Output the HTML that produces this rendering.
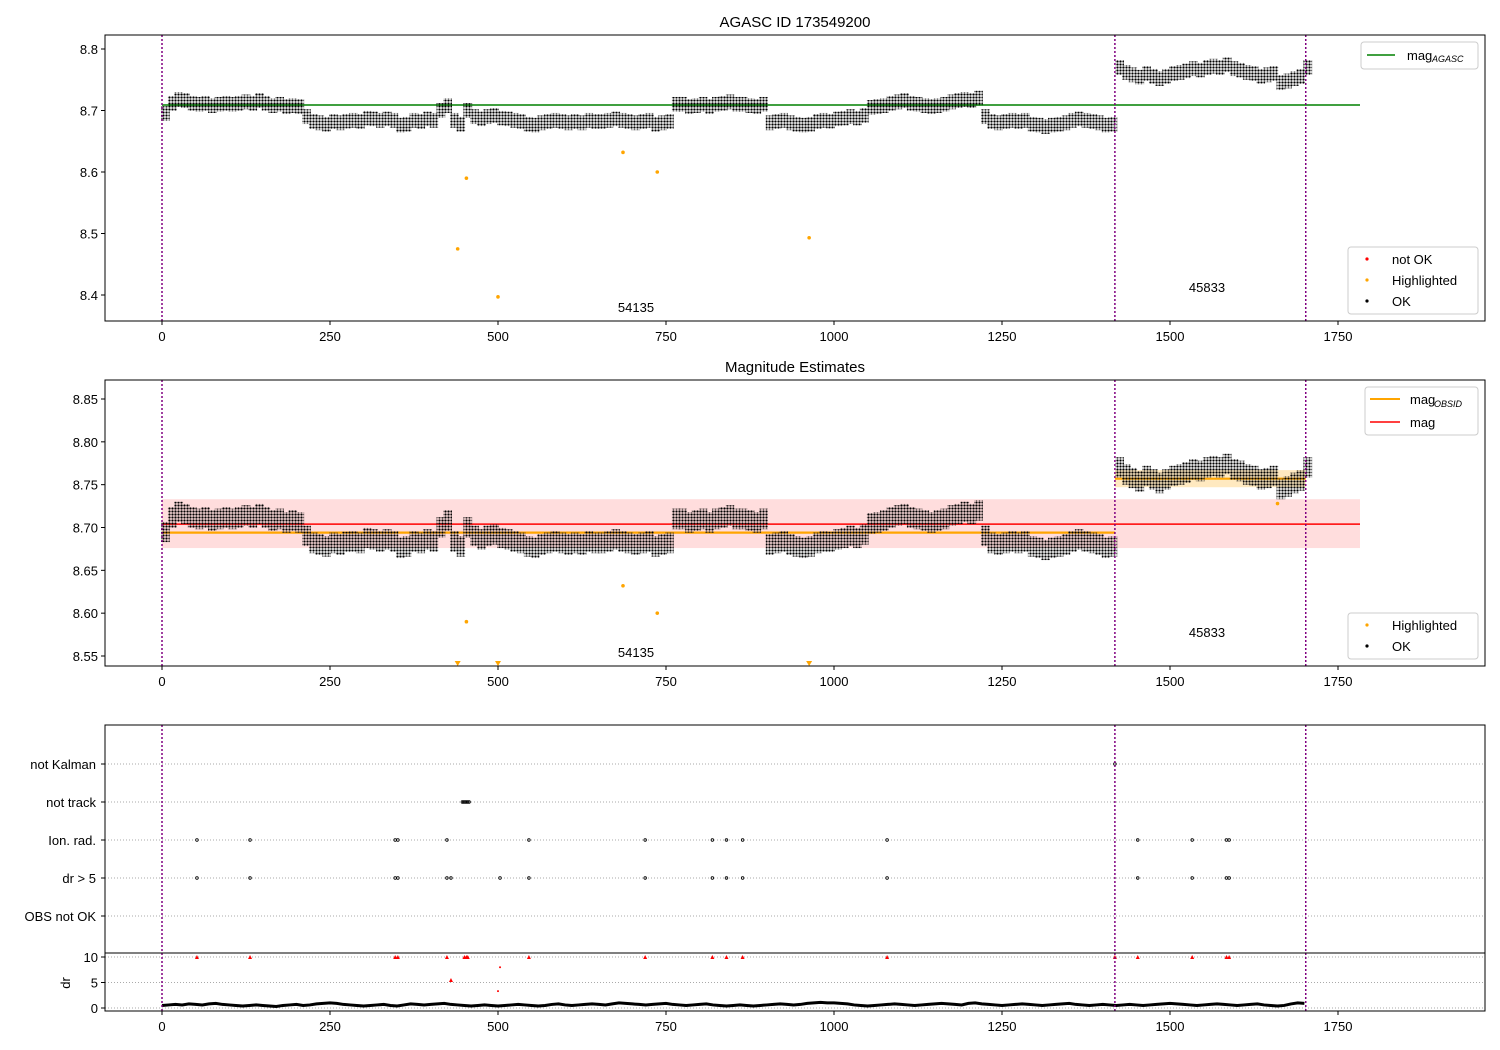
<!DOCTYPE html>
<html><head><meta charset="utf-8"><style>
body{margin:0;background:#fff}
svg{display:block;font-family:"Liberation Sans","DejaVu Sans",sans-serif}
</style></head><body>
<svg id="c" width="1500" height="1050" xmlns="http://www.w3.org/2000/svg">
<defs><pattern id="dots" width="3" height="3" patternUnits="userSpaceOnUse"><circle cx="1.5" cy="1.5" r="1.15" fill="#000"/></pattern></defs>
</svg>
<script>
const magIdx=[0,10,20,30,40,50,60,70,80,90,100,110,120,130,140,150,160,170,180,190,200,210,220,230,240,250,260,270,280,290,300,310,320,330,340,350,360,370,380,390,400,410,420,430,440,450,460,470,480,490,500,510,520,530,540,550,560,570,580,590,600,610,620,630,640,650,660,670,680,690,700,710,720,730,740,750,760,770,780,790,800,810,820,830,840,850,860,870,880,890,900,910,920,930,940,950,960,970,980,990,1000,1010,1020,1030,1040,1050,1060,1070,1080,1090,1100,1110,1120,1130,1140,1150,1160,1170,1180,1190,1200,1210,1220,1230,1240,1250,1260,1270,1280,1290,1300,1310,1320,1330,1340,1350,1360,1370,1380,1390,1400,1410,1420,1430,1440,1450,1460,1470,1480,1490,1500,1510,1520,1530,1540,1550,1560,1570,1580,1590,1600,1610,1620,1630,1640,1650,1660,1670,1680,1690,1700];
const magVals=[8.695,8.712,8.718,8.716,8.712,8.71,8.712,8.708,8.71,8.712,
8.71,8.712,8.714,8.712,8.716,8.712,8.708,8.71,8.706,8.708,
8.706,8.69,8.682,8.68,8.678,8.682,8.68,8.683,8.684,8.682,
8.688,8.686,8.684,8.686,8.684,8.676,8.678,8.684,8.682,8.686,
8.684,8.7,8.708,8.684,8.678,8.7,8.69,8.686,8.69,8.692,
8.688,8.686,8.684,8.682,8.678,8.676,8.68,8.682,8.684,8.682,
8.68,8.682,8.68,8.684,8.682,8.682,8.684,8.686,8.684,8.682,
8.68,8.682,8.684,8.678,8.68,8.682,8.71,8.71,8.706,8.708,
8.71,8.706,8.71,8.712,8.714,8.71,8.71,8.708,8.706,8.71,
8.68,8.682,8.684,8.68,8.678,8.676,8.678,8.682,8.684,8.683,
8.686,8.688,8.69,8.688,8.692,8.705,8.706,8.708,8.712,8.714,
8.716,8.712,8.71,8.708,8.706,8.708,8.71,8.714,8.716,8.718,
8.716,8.72,8.69,8.682,8.68,8.682,8.684,8.682,8.684,8.678,
8.676,8.674,8.676,8.678,8.68,8.684,8.686,8.684,8.682,8.68,
8.676,8.678,8.77,8.762,8.758,8.754,8.76,8.756,8.752,8.756,
8.76,8.762,8.764,8.768,8.766,8.77,8.772,8.77,8.774,8.768,
8.766,8.762,8.76,8.756,8.758,8.76,8.745,8.748,8.752,8.755,8.77];
const drVals=[0.5,0.6,0.7,0.6,0.8,0.7,0.6,0.8,0.9,0.7,0.6,0.5,0.4,0.5,0.6,0.5,0.4,0.3,0.5,0.6,
0.7,0.5,0.6,0.8,0.9,1.0,0.9,0.7,0.6,0.5,0.4,0.5,0.6,0.7,0.5,0.4,0.6,0.8,0.7,0.6,
0.7,0.8,0.9,0.7,0.6,0.5,0.4,0.5,0.6,0.5,0.4,0.5,0.6,0.7,0.6,0.5,0.4,0.5,0.7,0.8,
0.6,0.5,0.6,0.7,0.8,0.7,0.6,0.8,1.0,0.9,0.8,0.7,0.6,0.7,0.8,0.9,0.7,0.6,0.5,0.6,
0.7,0.8,0.6,0.5,0.4,0.5,0.6,0.5,0.4,0.5,0.6,0.7,0.8,0.7,0.6,0.7,0.9,1.0,1.1,1.0,
1.0,0.9,0.8,0.6,0.5,0.4,0.5,0.6,0.7,0.8,0.7,0.6,0.5,0.6,0.7,0.8,0.9,0.8,0.7,0.6,
0.9,1.0,0.8,0.7,0.6,0.5,0.6,0.7,0.8,0.7,0.6,0.5,0.6,0.7,0.8,0.9,0.7,0.6,0.5,0.6,
0.7,0.6,0.5,0.6,0.7,0.6,0.5,0.6,0.7,0.8,0.9,0.8,0.7,0.6,0.5,0.6,0.7,0.8,0.7,0.6,
0.5,0.6,0.7,0.8,0.6,0.5,0.4,0.5,0.8,1.0,0.9];
const hiIdx=[440,453,500,686,737,963];
const hiVals=[8.475,8.59,8.397,8.632,8.6,8.493];
const hi2Idx=[1660];const hi2Vals=[8.728];
const ionIdx=[52,131,347,351,424,546,719,819,840,864,1079,1452,1533,1584,1588];
const dr5Idx=[52,131,347,351,424,430,503,546,719,819,840,864,1079,1452,1533,1584,1588];
const trackIdx=[447,449,451,453,455,457];
const kalmanIdx=[1418];
const redIdx=[52,131,347,351,424,430,450,453,455,546,719,819,840,864,1079,1418,1452,1533,1584,1588];
const redVals=[10,10,10,10,10,5.5,10,10,10,10,10,10,10,10,10,10,10,10,10,10];
const red2Idx=[503,500];const red2Vals=[8,3.3];
const xTicks=[0,250,500,750,1000,1250,1500,1750];
const y1Ticks=[8.4,8.5,8.6,8.7,8.8];
const y2Ticks=[8.55,8.6,8.65,8.7,8.75,8.8,8.85];
const cats=["OBS not OK","dr > 5","Ion. rad.","not track","not Kalman"];
const drTicks=[0,5,10];
const vlines=[0,1418,1702];
const magAgasc=8.709, magAll=8.704, magBand=[8.676,8.733];
const obsMeans=[8.694,8.757], obsBounds=[[0,1418],[1418,1702]];

const S=document.getElementById('c');const NS='http://www.w3.org/2000/svg';
function el(t,a,p){const e=document.createElementNS(NS,t);for(const k in a)e.setAttribute(k,a[k]);(p||S).appendChild(e);return e;}
const L=105,R=1485;
const X=v=>162+v*0.672;
function mkY(v0,p0,v1,p1){return v=>p0+(v-v0)*(p1-p0)/(v1-v0);}
const Y1=mkY(8.4,295,8.8,49), Y2=mkY(8.55,656,8.85,399), YD=mkY(0,1008,10,957);
const YC=[916,878,840,802,764];
function txt(x,y,s,o){const t=el('text',Object.assign({x:x,y:y,'font-size':13,fill:'#000'},o||{}));t.textContent=s;return t;}
function xaxis(bot,g){xTicks.forEach(v=>{el('line',{x1:X(v),x2:X(v),y1:bot,y2:bot+4,stroke:'#000'},g);txt(X(v),bot+20,String(v),{'text-anchor':'middle'});});}
function frame(name){const g=el('g',{});return g;}
function vl(top,bot,g){vlines.forEach(v=>{const l=el('line',{x1:X(v),x2:X(v),y1:top,y2:bot,stroke:'purple','stroke-width':1.5,'stroke-dasharray':'2,2'},g);});}
function magMarks(Y,g){const h=Math.abs(Y(0.012)-Y(0));magIdx.forEach((i,k)=>{const r=el('rect',{x:X(i)-1,y:Y(magVals[k])-h,width:X(10)-X(0)+2,height:2*h,fill:'url(#dots)'},g);});}

// Panel 1
const g1=frame('top-panel');
el('line',{x1:X(0),x2:1360,y1:Y1(magAgasc),y2:Y1(magAgasc),stroke:'green','stroke-width':1.5},g1);
magMarks(Y1,g1);
hiIdx.forEach((i,k)=>{const c=el('circle',{cx:X(i),cy:Y1(hiVals[k]),r:1.8,fill:'orange'},g1);});
vl(35,321,g1);
el('rect',{x:L,y:35,width:R-L,height:286,fill:'none',stroke:'#000'},g1);
y1Ticks.forEach(v=>{el('line',{x1:L-4,x2:L,y1:Y1(v),y2:Y1(v),stroke:'#000'},g1);txt(L-7,Y1(v)+5,v.toFixed(1),{'text-anchor':'end'});});
xaxis(321,g1);
txt(795,27,'AGASC ID 173549200',{'text-anchor':'middle','font-size':15});
txt(636,312,'54135',{'text-anchor':'middle'});txt(1207,292,'45833',{'text-anchor':'middle'});
el('rect',{x:1361,y:42,width:117,height:27,fill:'#fff',stroke:'#ccc',rx:3},g1);
el('line',{x1:1367,x2:1395,y1:55,y2:55,stroke:'green','stroke-width':1.5},g1);
txt(1407,60,'mag');txt(1432,62,'AGASC',{'font-size':9,'font-style':'italic'});
el('rect',{x:1348,y:247,width:130,height:67,fill:'#fff',stroke:'#ccc',rx:3},g1);
[['red','not OK',259],['orange','Highlighted',280],['#000','OK',301]].forEach(a=>{el('circle',{cx:1367,cy:a[2],r:1.6,fill:a[0]},g1);txt(1392,a[2]+5,a[1]);});

// Panel 2
const g2=frame('middle-panel');
el('rect',{x:X(0),y:Y2(magBand[1]),width:1360-X(0),height:Y2(magBand[0])-Y2(magBand[1]),fill:'#ffdddd'},g2);
el('rect',{x:X(obsBounds[1][0]),y:Y2(obsMeans[1]+0.01),width:X(obsBounds[1][1])-X(obsBounds[1][0]),height:Y2(obsMeans[1]-0.01)-Y2(obsMeans[1]+0.01),fill:'#ffe9c0'},g2);
el('line',{x1:X(0),x2:1360,y1:Y2(magAll),y2:Y2(magAll),stroke:'red','stroke-width':1.5},g2);
obsMeans.forEach((m,k)=>{el('line',{x1:X(obsBounds[k][0]),x2:X(obsBounds[k][1]),y1:Y2(m),y2:Y2(m),stroke:'orange','stroke-width':2.2},g2);});
magMarks(Y2,g2);
const hA=hiIdx.concat(hi2Idx),hV=hiVals.concat(hi2Vals);
hA.forEach((i,k)=>{const v=hV[k];if(v<8.538){const p=el('polygon',{points:`${X(i)-3},${661} ${X(i)+3},${661} ${X(i)},${666}`,fill:'orange'},g2);}else{const c=el('circle',{cx:X(i),cy:Y2(v),r:1.8,fill:'orange'},g2);}});
vl(380,666,g2);
el('rect',{x:L,y:380,width:R-L,height:286,fill:'none',stroke:'#000'},g2);
y2Ticks.forEach(v=>{el('line',{x1:L-4,x2:L,y1:Y2(v),y2:Y2(v),stroke:'#000'},g2);txt(L-7,Y2(v)+5,v.toFixed(2),{'text-anchor':'end'});});
xaxis(666,g2);
txt(795,372,'Magnitude Estimates',{'text-anchor':'middle','font-size':15});
txt(636,657,'54135',{'text-anchor':'middle'});txt(1207,637,'45833',{'text-anchor':'middle'});
el('rect',{x:1365,y:387,width:113,height:48,fill:'#fff',stroke:'#ccc',rx:3},g2);
el('line',{x1:1370,x2:1400,y1:399,y2:399,stroke:'orange','stroke-width':2},g2);txt(1410,404,'mag');txt(1434,407,'OBSID',{'font-size':9,'font-style':'italic'});
el('line',{x1:1370,x2:1400,y1:422,y2:422,stroke:'red','stroke-width':1.5},g2);txt(1410,427,'mag');
el('rect',{x:1348,y:613,width:130,height:46,fill:'#fff',stroke:'#ccc',rx:3},g2);
[['orange','Highlighted',625],['#000','OK',646]].forEach(a=>{el('circle',{cx:1367,cy:a[2],r:1.6,fill:a[0]},g2);txt(1392,a[2]+5,a[1]);});

// Panel 3
const g3=frame('flags-panel');
YC.forEach((y,k)=>{el('line',{x1:L,x2:R,y1:y,y2:y,stroke:'#aaa','stroke-dasharray':'1,2'},g3);el('line',{x1:L-4,x2:L,y1:y,y2:y,stroke:'#000'},g3);txt(L-9,y+5,cats[k],{'text-anchor':'end'});});
function flags(arr,row){arr.forEach(i=>{const c=el('circle',{cx:X(i),cy:YC[row],r:1.3,fill:'none',stroke:'#000','stroke-width':0.8},g3);});}
flags(dr5Idx,1);flags(ionIdx,2);flags(trackIdx,3);flags(kalmanIdx,4);
[0,5,10].forEach(v=>el('line',{x1:L,x2:R,y1:YD(v),y2:YD(v),stroke:'#aaa','stroke-dasharray':'1,2'},g3));
let d='';drVals.forEach((v,k)=>{d+=(k?'L':'M')+X(magIdx[k])+','+YD(v);});
el('path',{d:d,fill:'none',stroke:'#000','stroke-width':3},g3);
redIdx.forEach((i,k)=>{el('polygon',{points:`${X(i)-2},${YD(redVals[k])+2} ${X(i)+2},${YD(redVals[k])+2} ${X(i)},${YD(redVals[k])-2}`,fill:'red'},g3);});
red2Idx.forEach((i,k)=>el('circle',{cx:X(i),cy:YD(red2Vals[k]),r:1,fill:'red'},g3));
vl(725,1011,g3);
el('rect',{x:L,y:725,width:R-L,height:286,fill:'none',stroke:'#000'},g3);
el('line',{x1:L,x2:R,y1:953,y2:953,stroke:'#000'},g3);
drTicks.forEach(v=>{el('line',{x1:L-4,x2:L,y1:YD(v),y2:YD(v),stroke:'#000'},g3);txt(L-7,YD(v)+5,String(v),{'text-anchor':'end'});});
txt(70,983,'dr',{'text-anchor':'middle',transform:'rotate(-90 70 983)'});
xaxis(1011,g3);
</script>
</body></html>
